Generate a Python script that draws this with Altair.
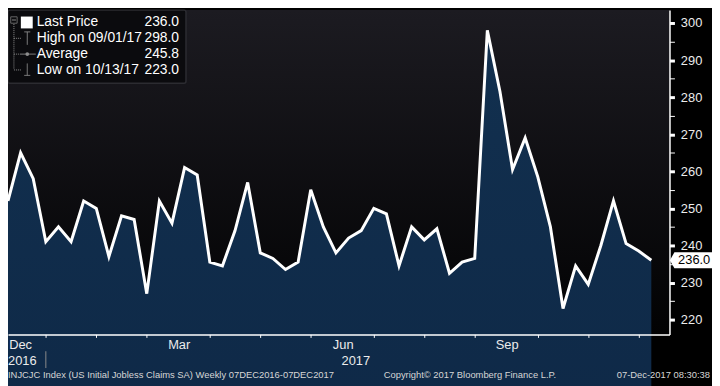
import altair as alt
import pandas as pd

# ---------------- data ----------------
claims = [252, 265, 258, 241, 245, 241, 252, 250, 237, 248,
          247, 227, 252, 246, 261, 259, 235.5, 234.5, 244, 257,
          238, 236.5, 233.5, 235.5, 255, 245, 238, 242, 244, 250,
          248.5, 234.5, 245, 241.5, 244.5, 232.5, 235.5, 236.5, 298, 281.5,
          260.5, 269, 258.5, 245, 223, 234.5, 229.5, 240, 252, 240.5,
          238.5, 236]
week_ending = pd.date_range("2016-12-09", periods=len(claims), freq="7D").strftime("%Y-%m-%d").tolist()

month_tick_dates = ["2016-12-30", "2017-01-27", "2017-02-24", "2017-03-31", "2017-04-28",
                    "2017-05-26", "2017-06-30", "2017-07-28", "2017-08-25", "2017-09-29",
                    "2017-10-27", "2017-11-24"]
month_labels = ["Dec", "Mar", "Jun", "Sep"]
month_label_dates = ["2016-12-16", "2017-03-14", "2017-06-13", "2017-09-12"]
year_labels = ["2016", "2017"]
year_label_dates = ["2016-12-09", "2017-06-20"]
year_aligns = ["left", "center"]
year_sep_date = ["2016-12-30"]

y_major = [220, 230, 240, 250, 260, 270, 280, 290, 300]
y_ticks = [220, 225, 230, 235, 240, 245, 250, 255, 260, 265, 270, 275, 280, 285, 290, 295, 300]

legend_names = ["Last Price", "High on 09/01/17", "Average", "Low on 10/13/17"]
legend_values = ["236.0", "298.0", "245.8", "223.0"]
last_value = [236.0]

footer_left = "INJCJC Index (US Initial Jobless Claims SA)  Weekly 07DEC2016-07DEC2017"
footer_mid = "Copyright\u00a9 2017 Bloomberg Finance L.P."
footer_right = "07-Dec-2017 08:30:38"

# ---------------- layout ----------------
W, H = 669, 328
FONT = "Liberation Sans"


def dt(s):
    y, m, d = (int(p) for p in s.split("-"))
    return alt.DateTime(year=y, month=m, date=d, utc=True)


xscale = alt.Scale(type="utc", domain=[dt("2016-12-09"),
                                       alt.DateTime(year=2017, month=12, date=11, hours=2, utc=True)])
xaxis = alt.Axis(values=[dt(s) for s in month_tick_dates], labels=False, ticks=True,
                 tickSize=3, tickColor="white", tickWidth=1, domainColor="white",
                 domainWidth=1.5, grid=False, title=None, zindex=2)
yscale = alt.Scale(domain=[216, 303.4667], zero=False, nice=False)
yaxis = alt.Axis(orient="right", values=y_ticks, grid=False, title=None,
                 labelExpr="datum.value % 10 === 0 ? datum.label : ''",
                 labelColor="#ececec", labelFont=FONT, labelFontSize=13,
                 labelPadding=6, labelOverlap=False, labelFlush=False,
                 tickSize=5, tickColor="white",
                 tickWidth={"condition": {"test": "datum.value % 10 === 0", "value": 3}, "value": 1},
                 domainColor="white", domainWidth=1.5, zindex=2)

series = pd.DataFrame({"date": week_ending, "value": claims})

X = alt.X("date:T", scale=xscale, axis=xaxis)
Y = alt.Y("value:Q", scale=yscale, axis=yaxis)

one = pd.DataFrame({"a": [0]})

bg = alt.Chart(one).mark_rect(
    fill=alt.Gradient(gradient="linear", x1=0, x2=0, y1=0, y2=1,
                      stops=[alt.GradientStop(color="#1c1b21", offset=0),
                             alt.GradientStop(color="#020203", offset=1)])
).encode(x=alt.value(0), x2=alt.value(W), y=alt.value(0), y2=alt.value(H))

area = alt.Chart(series).mark_area(
    fill=alt.Gradient(gradient="linear", x1=0, x2=0, y1=0, y2=1,
                      stops=[alt.GradientStop(color="#12304f", offset=0),
                             alt.GradientStop(color="#081c39", offset=1)])
).encode(x=X, y=Y, y2=alt.value(H))

line = alt.Chart(series).mark_line(color="white", strokeWidth=3, strokeJoin="miter").encode(x=X, y=Y)

mlab = alt.Chart(pd.DataFrame({"date": month_label_dates, "t": month_labels})).mark_text(
    color="#ececec", font=FONT, fontSize=13, baseline="middle", align="center"
).encode(x=X, y=alt.value(339), text="t:N")

ylab = alt.Chart(pd.DataFrame({"date": year_label_dates, "t": year_labels, "al": year_aligns})).transform_filter(
    "datum.al == 'left'").mark_text(color="#ececec", font=FONT, fontSize=13, baseline="middle", align="left"
).encode(x=X, y=alt.value(355), text="t:N")
ylab2 = alt.Chart(pd.DataFrame({"date": year_label_dates, "t": year_labels, "al": year_aligns})).transform_filter(
    "datum.al == 'center'").mark_text(color="#ececec", font=FONT, fontSize=13, baseline="middle", align="center"
).encode(x=X, y=alt.value(355), text="t:N")

ysep = alt.Chart(pd.DataFrame({"date": year_sep_date})).mark_rule(color="#8a8a8a", strokeWidth=1).encode(
    x=X, y=alt.value(345), y2=alt.value(362))

# legend box
leg_box = alt.Chart(one).mark_rect(fill="#0b0b0e", stroke="#2c2c31", strokeWidth=1.5, cornerRadius=2).encode(
    x=alt.value(0), x2=alt.value(180), y=alt.value(0), y2=alt.value(74))

row_y = [12.5, 28.5, 44.5, 60.5]
leg_df = pd.DataFrame({"name": legend_names, "val": legend_values, "ry": row_y})
leg_names = alt.Chart(leg_df).mark_text(color="white", font=FONT, fontSize=14, align="left", baseline="middle").encode(
    x=alt.value(29), y=alt.Y("ry:Q", scale=None, axis=None), text="name:N")
leg_vals = alt.Chart(leg_df).mark_text(color="white", font=FONT, fontSize=14, align="right", baseline="middle").encode(
    x=alt.value(173), y=alt.Y("ry:Q", scale=None, axis=None), text="val:N")

glyph_color = "#8d8d8d"
segments = [
    # (x, x2, y, y2, dash)
    (6, 6, 14, 60, True),
    (6, 13, 28.5, 28.5, True),
    (6, 13, 44.5, 44.5, True),
    (6, 13, 60.5, 60.5, True),
    (4, 8, 10, 10, False),
    (16.5, 22.5, 22, 22, False),
    (19.5, 19.5, 22, 35, False),
    (13, 28, 44.5, 44.5, False),
    (19.5, 19.5, 54, 66, False),
    (16.5, 22.5, 66, 66, False),
]
glyphs = []
for (a, b, c, d, dash) in segments:
    glyphs.append(alt.Chart(one).mark_rule(color=glyph_color, strokeWidth=1,
                                           strokeDash=[1, 1] if dash else [1, 0]).encode(
        x=alt.value(a), x2=alt.value(b), y=alt.value(c), y2=alt.value(d)))
tree_box = alt.Chart(one).mark_square(size=42, filled=False, color=glyph_color, strokeWidth=1).encode(
    x=alt.value(6), y=alt.value(10))
sq = alt.Chart(one).mark_square(size=144, filled=True, color="white", opacity=1).encode(
    x=alt.value(19), y=alt.value(12.5))
avg_dot = alt.Chart(one).mark_circle(size=14, color=glyph_color, opacity=1).encode(
    x=alt.value(19.5), y=alt.value(44.5))

# last value tag
tag_df = pd.DataFrame({"value": last_value, "t": ["%.1f" % v for v in last_value]})
tag = alt.Chart(tag_df).mark_point(
    shape="M -1 -0.43 L 1 -0.43 L 1 0.43 L -1 0.43 L -1.24 0 Z",
    size=1444, filled=True, color="white", opacity=1, strokeWidth=0
).encode(x=alt.value(693), y=Y)
tag_txt = alt.Chart(tag_df).mark_text(color="black", font=FONT, fontSize=13, align="center", baseline="middle").encode(
    x=alt.value(694), y=Y, text="t:N")

# footer
foot = []
for txt, xpos, al in [(footer_left, 0, "left"), (footer_mid, 380, "left"), (footer_right, 710, "right")]:
    foot.append(alt.Chart(one).mark_text(text=txt, color="#d6d6d6", font=FONT, fontSize=9.5,
                                         align=al, baseline="middle").encode(
        x=alt.value(xpos), y=alt.value(369)))

chart = alt.layer(
    bg, area, line, mlab, ylab, ylab2, ysep, leg_box, *glyphs, tree_box, sq, avg_dot,
    leg_names, leg_vals, tag, tag_txt, *foot
).properties(
    width=W, height=H,
    padding={"left": 0, "top": 0, "right": 43, "bottom": 50},
    autosize=alt.AutoSizeParams(type="none"),
    background="#000000",
).configure_view(stroke=None)

chart.save("out.html", embed_options={"renderer": "svg", "actions": False})
